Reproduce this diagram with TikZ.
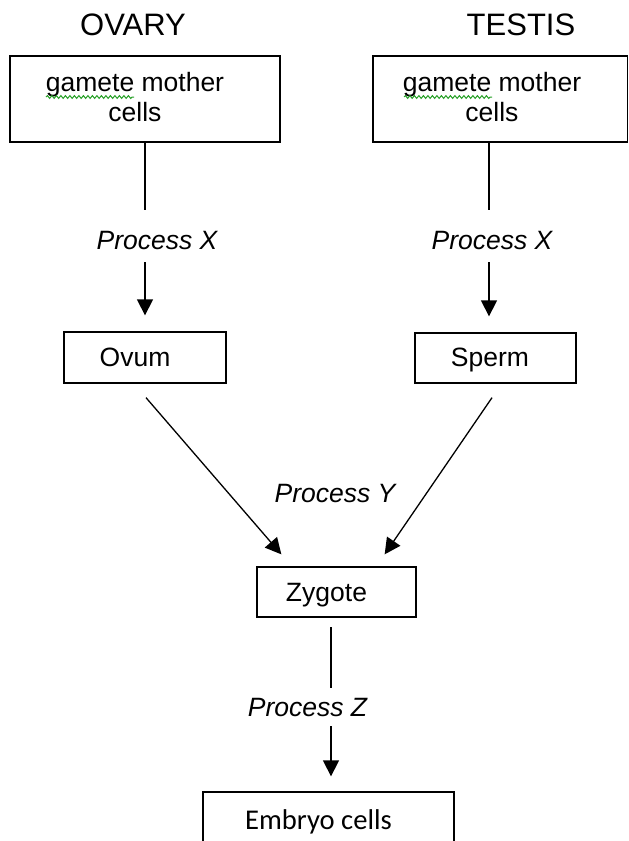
\documentclass[tikz,border=0pt]{standalone}
\usepackage{fontspec}
\setmainfont{Liberation Sans}
\newfontfamily\calibri{Carlito}
\usetikzlibrary{arrows.meta,decorations.pathmorphing,calc}

\begin{document}
\begin{tikzpicture}[x=1pt,y=-1pt,
  frame/.style={draw=black, line width=1.3pt, inner sep=0pt},
  txt/.style={font=\fontsize{26.5}{30}\selectfont, inner sep=0pt},
  proc/.style={font=\fontsize{26.5}{30}\selectfont\itshape, inner sep=0pt, anchor=base},
  head/.style={font=\fontsize{31}{37}\selectfont, inner sep=0pt},
  link/.style={draw=black, line width=1.3pt},
  arrow/.style={link, -{Triangle[width=16pt,length=16pt]}},
  spell/.style={draw={rgb,255:red,40;green,160;blue,40}, line width=1pt,
    decorate, decoration={snake, amplitude=1.4pt, segment length=4.5pt}}]

\useasboundingbox (0,0) rectangle (629,841);
\clip (0,0) rectangle (629,841);

% column headings
\node[head] (ovary) at (133,24.5) {OVARY};
\node[head] (testis) at (521,24.5) {TESTIS};

% gamete mother cell boxes
\node[frame, minimum width=270pt, minimum height=86pt] (gl) at (145,99) {};
\node[frame, minimum width=254.5pt, minimum height=86pt] (gr) at (500.25,99) {};
\node[txt, align=center] (gltext) at (135,97.5) {gamete mother\\cells};
\node[txt, align=center] (grtext) at (492,97.5) {gamete mother\\cells};
\draw[spell] (46,97) -- (134,97);
\draw[spell] (404,97) -- (492,97);

% gametes
\node[frame, minimum width=162pt, minimum height=51pt] (ovum) at (145,357.5) {};
\node[txt, anchor=base] (ovumtext) at (135,366.5) {Ovum};
\node[frame, minimum width=161pt, minimum height=50pt] (sperm) at (495.5,358) {};
\node[txt, anchor=base] (spermtext) at (490,366.5) {Sperm};

% zygote and embryo
\node[frame, minimum width=159pt, minimum height=50pt] (zyg) at (336.5,592) {};
\node[txt, anchor=base] (zygtext) at (326.5,601.5) {Zygote};
\node[frame, minimum width=251pt, minimum height=100pt] (emb) at (328.5,842) {};
\node[inner sep=0pt, anchor=base, font=\fontsize{28.6}{34}\selectfont\calibri] (embtext) at (318.5,829) {Embryo cells};

% process labels
\node[proc] (pxl) at (157,249.5) {Process X};
\node[proc] (pxr) at (492,249.5) {Process X};
\node[proc] (py) at (335,502.5) {Process Y};
\node[proc] (pz) at (307.5,716.5) {Process Z};

% connector end points
\coordinate (xla) at (145,210);
\coordinate (xlb) at (145,262);
\coordinate (xra) at (489,210);
\coordinate (xrb) at (489,262);
\coordinate (ya) at ($(ovum.south)+(1,14)$);
\coordinate (yb) at ($(sperm.south)+(-3.5,14)$);
\coordinate (yatip) at ($(zyg.north west)+(25,-12)$);
\coordinate (ybtip) at ($(zyg.north east)+(-32,-12)$);
\coordinate (za) at (331,627);
\coordinate (zb) at (331,688);
\coordinate (zc) at (331,726);

% meiosis
\draw[link] (gl.south) -- (xla);
\draw[arrow, shorten >=16pt] (xlb) -- (xlb |- ovum.north);
\draw[link] (gr.south -| xra) -- (xra);
\draw[arrow, shorten >=16pt] (xrb) -- (xrb |- sperm.north);

% fertilisation
\draw[arrow] (ya) -- (yatip);
\draw[arrow] (yb) -- (ybtip);

% mitosis
\draw[link] (za) -- (zb);
\draw[arrow, shorten >=15pt] (zc) -- (zc |- emb.north);

\end{tikzpicture}
\end{document}
